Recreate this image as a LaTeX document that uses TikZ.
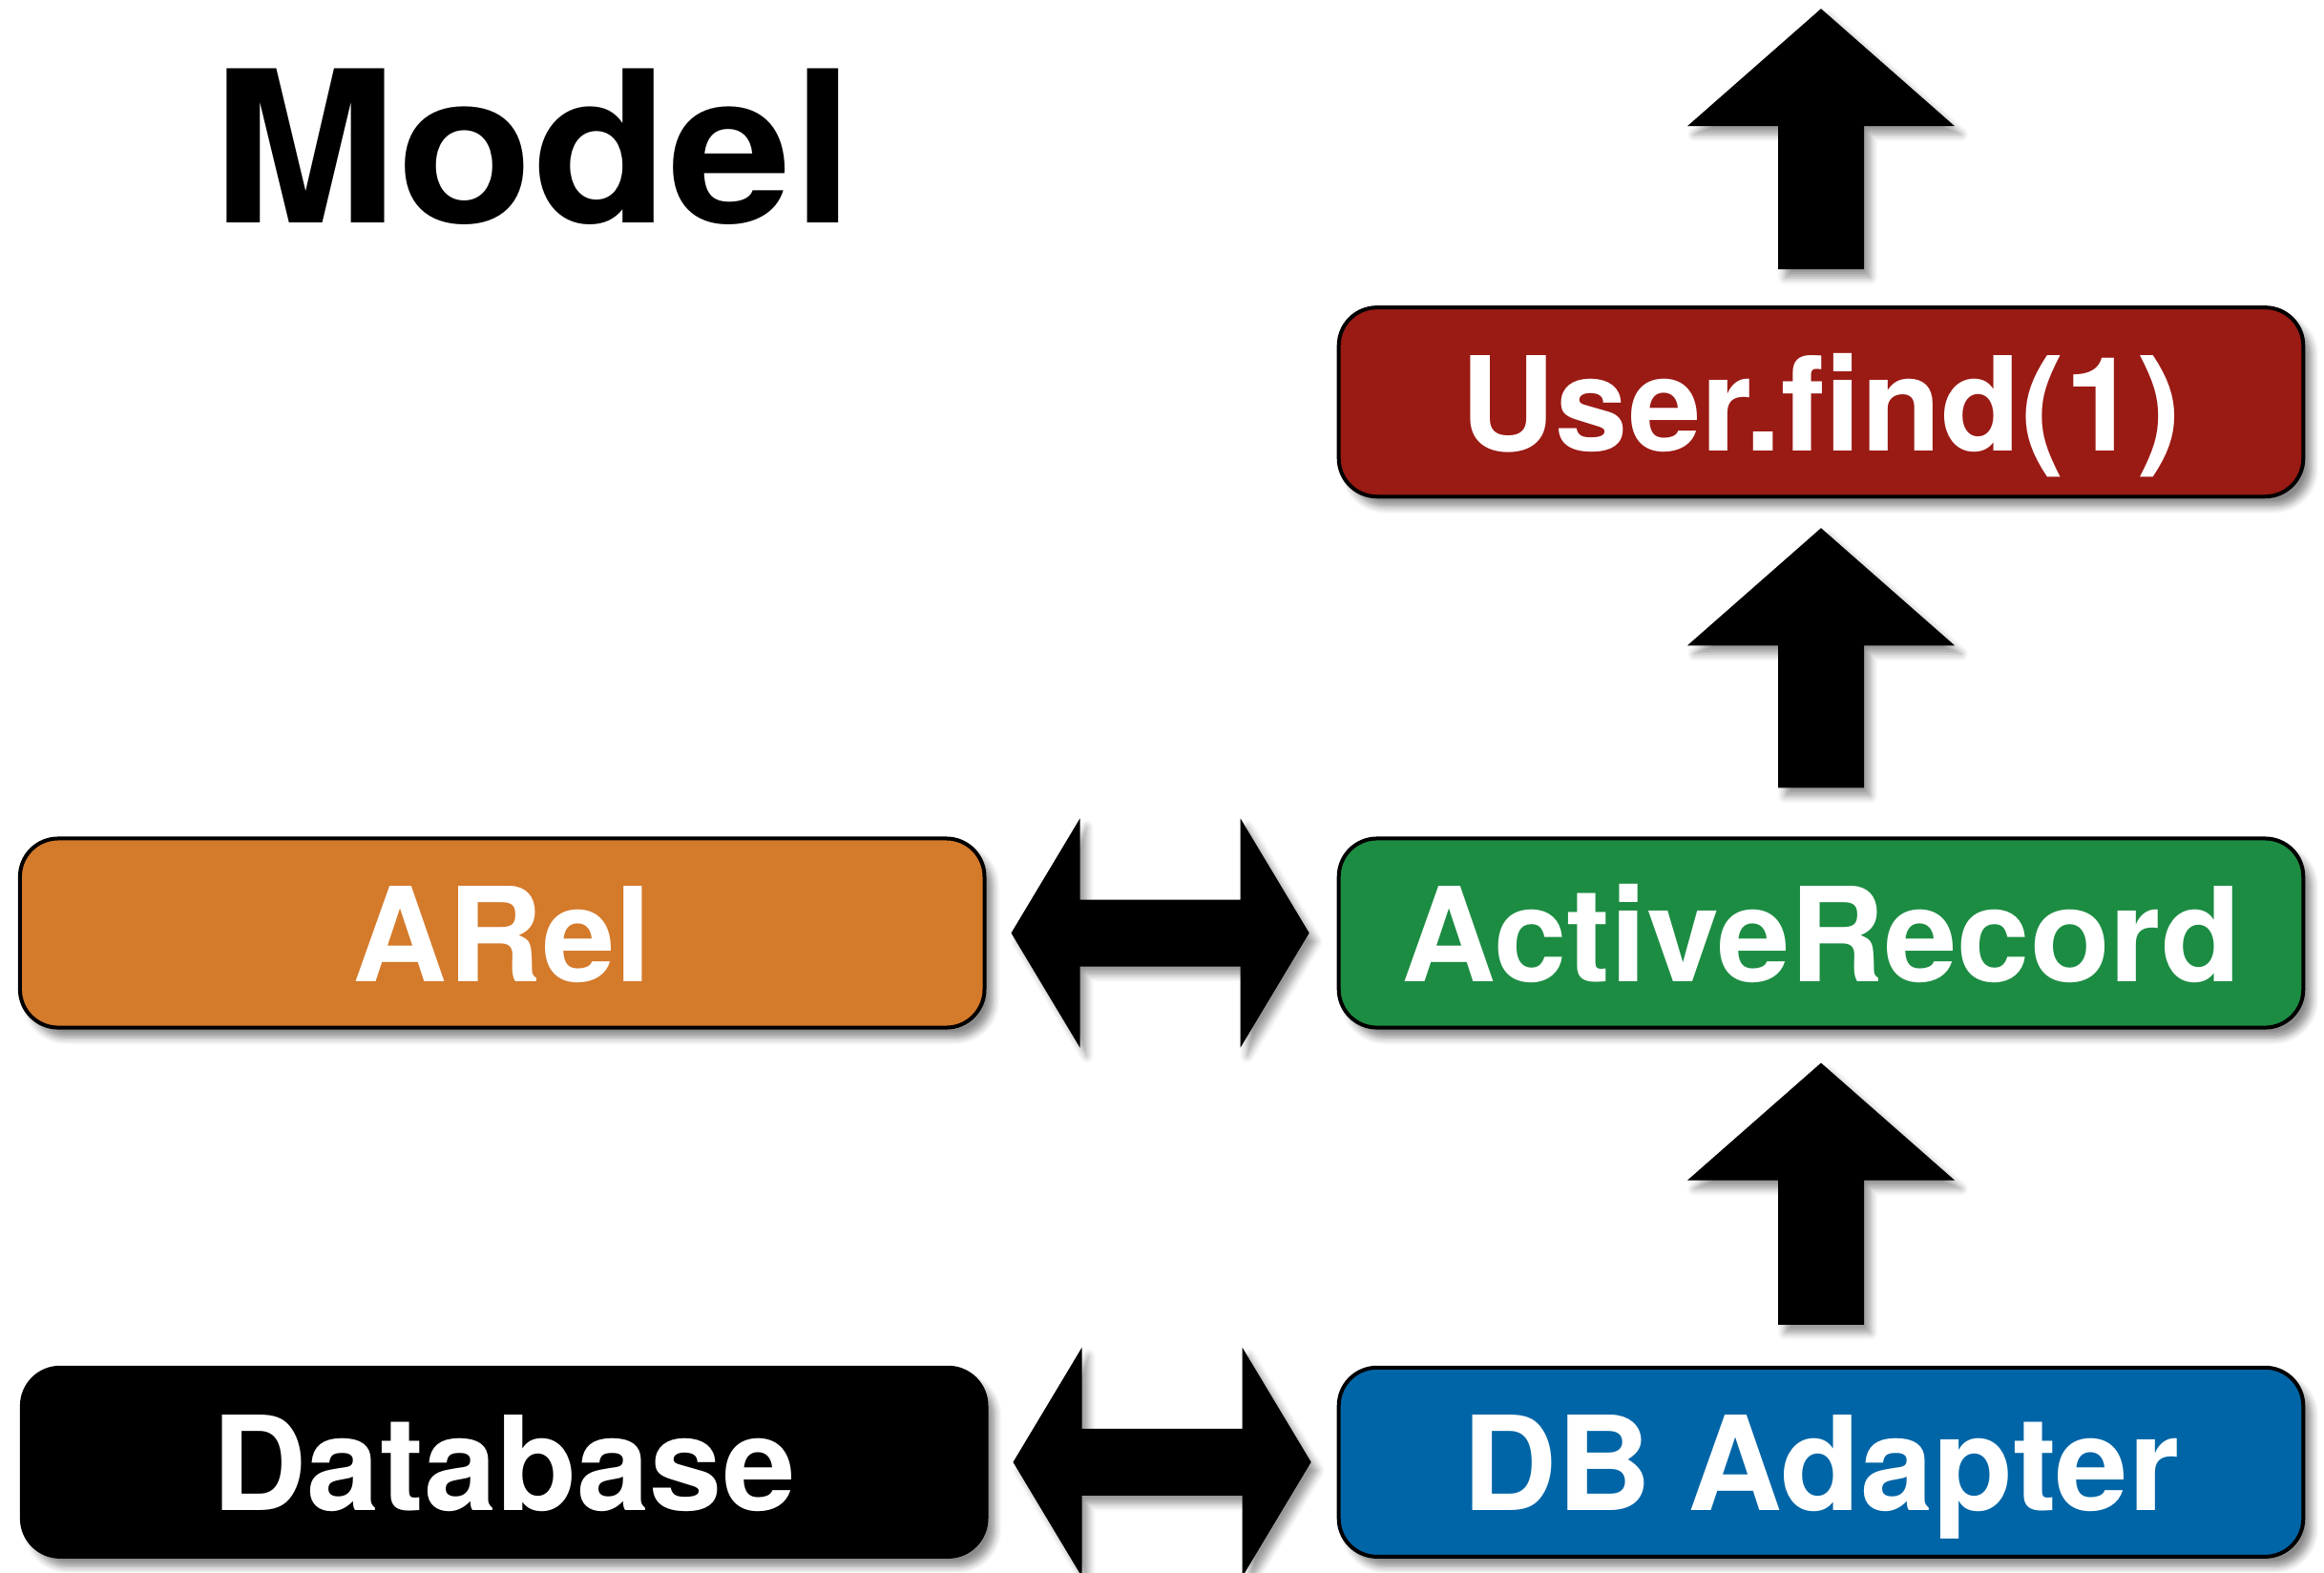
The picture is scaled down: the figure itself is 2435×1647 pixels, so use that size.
\documentclass[tikz,border=0pt]{standalone}
\usepackage{fontspec}
\setmainfont{TeX Gyre Heros}
\newfontfamily\titlefont[FakeStretch=1.05]{TeX Gyre Heros}
\usetikzlibrary{positioning,calc,shadows.blur}

\definecolor{findred}{HTML}{9A1A14}
\definecolor{arelorange}{HTML}{D47A2B}
\definecolor{argreen}{HTML}{1D8C43}
\definecolor{adapterblue}{HTML}{0065A6}

% block arrows: #1 = foot of shaft, #2 = tip
\newcommand\uparr[2]{%
    \fill[blockarrow] ($(#1)+(-45,0)$) -- ($(#2)+(-45,123)$) -- ($(#2)+(-140,123)$)
        -- (#2) -- ($(#2)+(140,123)$) -- ($(#2)+(45,123)$) -- ($(#1)+(45,0)$) -- cycle;}
% #1 = left tip, #2 = right tip
\newcommand\dblarr[2]{%
    \fill[blockarrow] (#1) -- ($(#1)+(72,-120)$) -- ($(#1)+(72,-35)$) -- ($(#2)+(-72,-35)$)
        -- ($(#2)+(-72,-120)$) -- (#2) -- ($(#2)+(-72,120)$) -- ($(#2)+(-72,35)$)
        -- ($(#1)+(72,35)$) -- ($(#1)+(72,120)$) -- cycle;}

\begin{document}
\begin{tikzpicture}[x=0.01cm,y=-0.01cm,
    layer/.style={draw=black, line width=0.04cm, rounded corners=0.4cm,
        minimum width=10.1cm, minimum height=1.98cm, inner sep=0pt,
        text height=1.2cm, text depth=0.18cm,
        text=white, font=\fontsize{39}{47}\selectfont\bfseries,
        blur shadow={shadow xshift=2.5pt, shadow yshift=-3pt, shadow blur steps=6, shadow opacity=45}},
    blockarrow/.style={fill=black,
        blur shadow={shadow xshift=2pt, shadow yshift=-2.5pt, shadow blur steps=5, shadow opacity=40}}]

    \useasboundingbox (0,0) rectangle (2435,1647);

    \node[font=\titlefont\fontsize{63}{70}\selectfont\bfseries, anchor=base west, inner sep=0pt] (title) at (222,233) {Model};

    \node[layer, fill=argreen] (ar) at (1908,977.5) {ActiveRecord};
    \node[layer, fill=findred, above=3.54cm of ar] (user) {User.find(1)};
    \node[layer, fill=adapterblue, below=3.52cm of ar] (dba) {DB Adapter};
    \node[layer, fill=arelorange, left=3.67cm of ar] (arel) {ARel};
    \node[layer, fill=black, left=3.65cm of dba] (db) {Database};

    \coordinate (out) at ($(user.north)+(0,-311)$);
    \coordinate (a1) at ($(user.north)+(0,-38)$);
    \coordinate (a2) at ($(ar.north)+(0,-51)$);
    \coordinate (t2) at ($(user.south)+(0,31)$);
    \coordinate (a3) at ($(dba.north)+(0,-43)$);
    \coordinate (t3) at ($(ar.south)+(0,35)$);
    \uparr{a1}{out}
    \uparr{a2}{t2}
    \uparr{a3}{t3}

    \coordinate (h1l) at ($(arel.east)+(26,0)$);
    \coordinate (h1r) at ($(ar.west)+(-29,0)$);
    \coordinate (h2l) at ($(db.east)+(26,0)$);
    \coordinate (h2r) at ($(dba.west)+(-27,0)$);
    \dblarr{h1l}{h1r}
    \dblarr{h2l}{h2r}

\end{tikzpicture}
\end{document}
